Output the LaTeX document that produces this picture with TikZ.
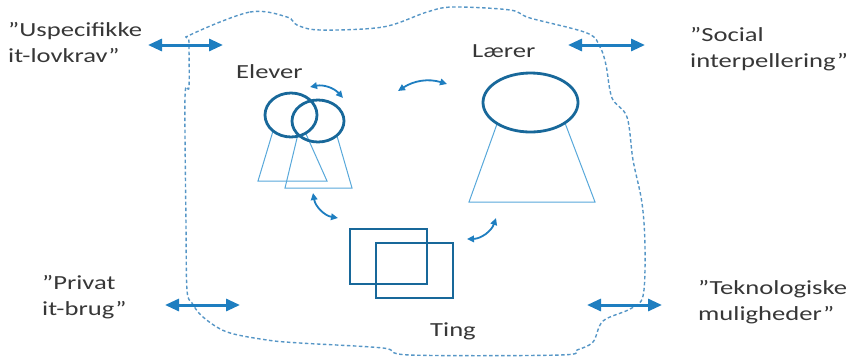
\documentclass[tikz,border=0pt]{standalone}
\usepackage{fontspec}
\setmainfont{Carlito}
\newfontfamily\labelfont[FakeStretch=1.33]{Carlito}
\usetikzlibrary{arrows.meta}
\definecolor{outline}{RGB}{86,150,198}
\definecolor{bigarrow}{RGB}{30,126,192}
\definecolor{darkshape}{RGB}{24,104,154}
\definecolor{lightshape}{RGB}{88,168,218}
\definecolor{labeltext}{RGB}{55,55,55}
\tikzset{
  label/.style={font=\labelfont\fontsize{20}{25.5}\selectfont, text=labeltext, inner sep=0pt, align=left},
  bigdouble/.style={bigarrow, line width=3pt, {Triangle[length=14pt,width=12pt]}-{Triangle[length=14pt,width=12pt]}},
  smalldouble/.style={bigarrow, line width=1.8pt, {Triangle[length=7pt,width=6.5pt]}-{Triangle[length=7pt,width=6.5pt]}},
  headshape/.style={darkshape, line width=2.8pt},
  bodyshape/.style={lightshape, line width=1pt},
  boxshape/.style={darkshape, line width=2.8pt},
  border/.style={outline, line width=1.4pt, dash pattern=on 3.5pt off 2.5pt},
}
\begin{document}
\begin{tikzpicture}[x=1pt,y=-1pt]
\useasboundingbox (0,0) rectangle (853,360);

% dashed boundary of the classroom
\draw[border] plot[smooth cycle, tension=0.55] coordinates {
  (190,35) (250,12) (287,17) (297,25) (320,30) (383,27) (427,12) (453,7)
  (510,10) (530,18) (587,33) (600,47) (606,65) (612,98) (627,117) (633,160)
  (642,203) (645,247) (643,296) (630,309) (603,321) (593,342) (577,350)
  (560,355) (410,355) (383,348) (300,343) (267,340) (227,332) (203,317)
  (192,303) (187,290) (186,225) (185,97) (189,87) (189,42)};

% outer labels (anchored at the baseline of their last line)
\node[label, anchor=base west] (usp) at (8,62) {”Uspecifikke\\it-lovkrav”};
\node[label, anchor=base west] (soc) at (690,67) {”Social\\interpellering”};
\node[label, anchor=base west] (priv) at (42,315) {”Privat\\it-brug”};
\node[label, anchor=base west] (tek) at (698,320) {”Teknologiske\\muligheder”};

% inner labels
\node[label, anchor=base west] (elever) at (236,78) {Elever};
\node[label, anchor=base west] (laerer) at (472,57) {Lærer};
\node[label, anchor=base west] (ting) at (430,336) {Ting};

% pupils
\draw[bodyshape] (273,131) -- (258,181) -- (327,181) -- (306,134);
\draw[bodyshape] (298,134) -- (285,188) -- (352,188) -- (337,136);
\draw[headshape] (291,115) ellipse [x radius=26, y radius=22];
\draw[headshape] (318,121) ellipse [x radius=26, y radius=21];

% teacher
\draw[bodyshape] (497,124) -- (469,202) -- (595,202) -- (565,123);
\draw[headshape] (530.5,102.5) ellipse [x radius=47.5, y radius=29.5];

% things
\draw[boxshape] (350,229) rectangle (427,284);
\draw[boxshape] (376,243) rectangle (453,298);

% exchanges across the boundary
\coordinate (a1) at (148,45); \coordinate (a2) at (223,45);
\coordinate (b1) at (568,45); \coordinate (b2) at (645,45);
\coordinate (c1) at (165,305); \coordinate (c2) at (240,305);
\coordinate (d1) at (587,305); \coordinate (d2) at (662,305);
\draw[bigdouble] (a1) -- (a2);
\draw[bigdouble] (b1) -- (b2);
\draw[bigdouble] (c1) -- (c2);
\draw[bigdouble] (d1) -- (d2);

% exchanges inside the classroom
\coordinate (p1) at (310,87); \coordinate (p2) at (343,98);
\coordinate (q1) at (398,91); \coordinate (q2) at (447,84);
\coordinate (r1) at (313,193); \coordinate (r2) at (338,218);
\coordinate (s1) at (467,239); \coordinate (s2) at (496,218);
\draw[smalldouble] (p1) to[bend left=30] (p2);
\draw[smalldouble] (q1) to[bend left=25] (q2);
\draw[smalldouble] (r1) to[bend right=35] (r2);
\draw[smalldouble] (s1) to[bend right=35] (s2);
\end{tikzpicture}
\end{document}
